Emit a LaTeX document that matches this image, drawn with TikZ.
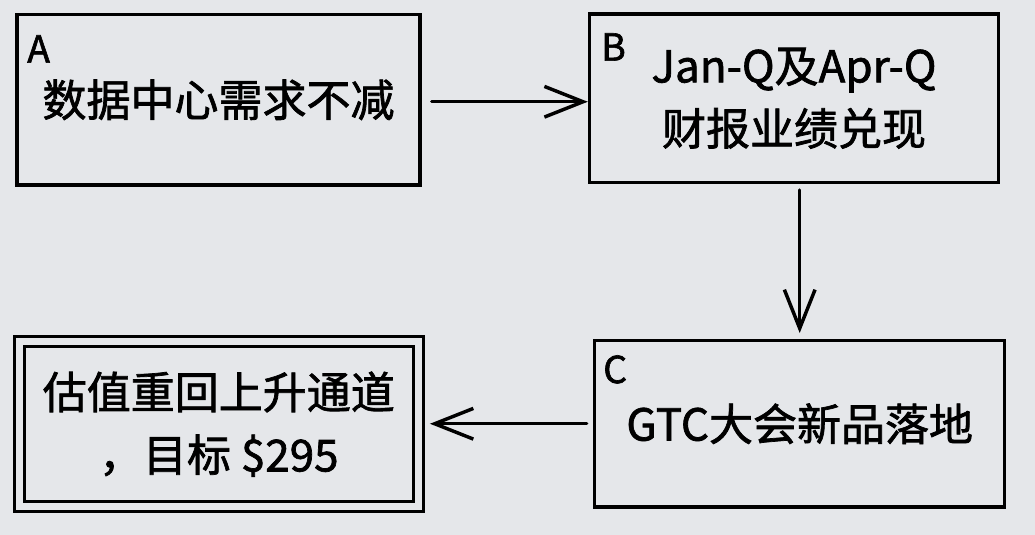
\documentclass[tikz,border=0pt]{standalone}
\usepackage{fontspec}
\setmainfont{Noto Sans CJK SC}[FakeBold=1.6]
\usetikzlibrary{arrows.meta}
\definecolor{paper}{RGB}{229,231,234}
\tikzset{
  box/.style={draw, line width=2.6pt, inner sep=0pt, align=center, font=\fontsize{33}{47}\selectfont},
  tag/.style={anchor=north west, inner sep=0pt, font=\fontsize{28}{28}\selectfont},
  flow/.style={line width=2.6pt, line cap=round, -{Straight Barb[length=29pt,width=23pt]}},
}
\begin{document}
\begin{tikzpicture}[x=0.75pt, y=-0.75pt]
  \fill[paper] (0,0) rectangle (1035,535);
  \node[box, minimum width=302.25pt, minimum height=127.9pt] (boxA) at (218.5,99.75) {数据中心需求不减};
  \node[box, minimum width=306.75pt, minimum height=126.4pt] (boxB) at (794,98.25) {Jan-Q及Apr-Q\\财报业绩兑现};
  \node[box, minimum width=307.5pt, minimum height=124.9pt] (boxC) at (799.7,423.75) {GTC大会新品落地};
  \node[box, double=paper, line width=2.5pt, double distance=5pt, minimum width=299.25pt, minimum height=123.75pt] (boxD) at (218.8,424.2) {估值重回上升通道\\，目标 \$295};
  \node[tag] (tagA) at (27,35) {A};   \node[tag] (tagB) at (601,33) {B};   \node[tag] (tagC) at (603,355) {C};
  \draw[flow] ([xshift=7.5pt,yshift=-1.5pt]boxA.east) -- ([yshift=-1.5pt]boxA.east -| boxB.west);
  \draw[flow, shorten >=4.3pt] ([yshift=-4.3pt]boxB.south -| boxC.north) -- (boxC.north);
  \draw[flow, shorten >=7.5pt] ([xshift=-4.7pt]boxC.west) -- (boxC.west -| boxD.east);
\end{tikzpicture}
\end{document}
